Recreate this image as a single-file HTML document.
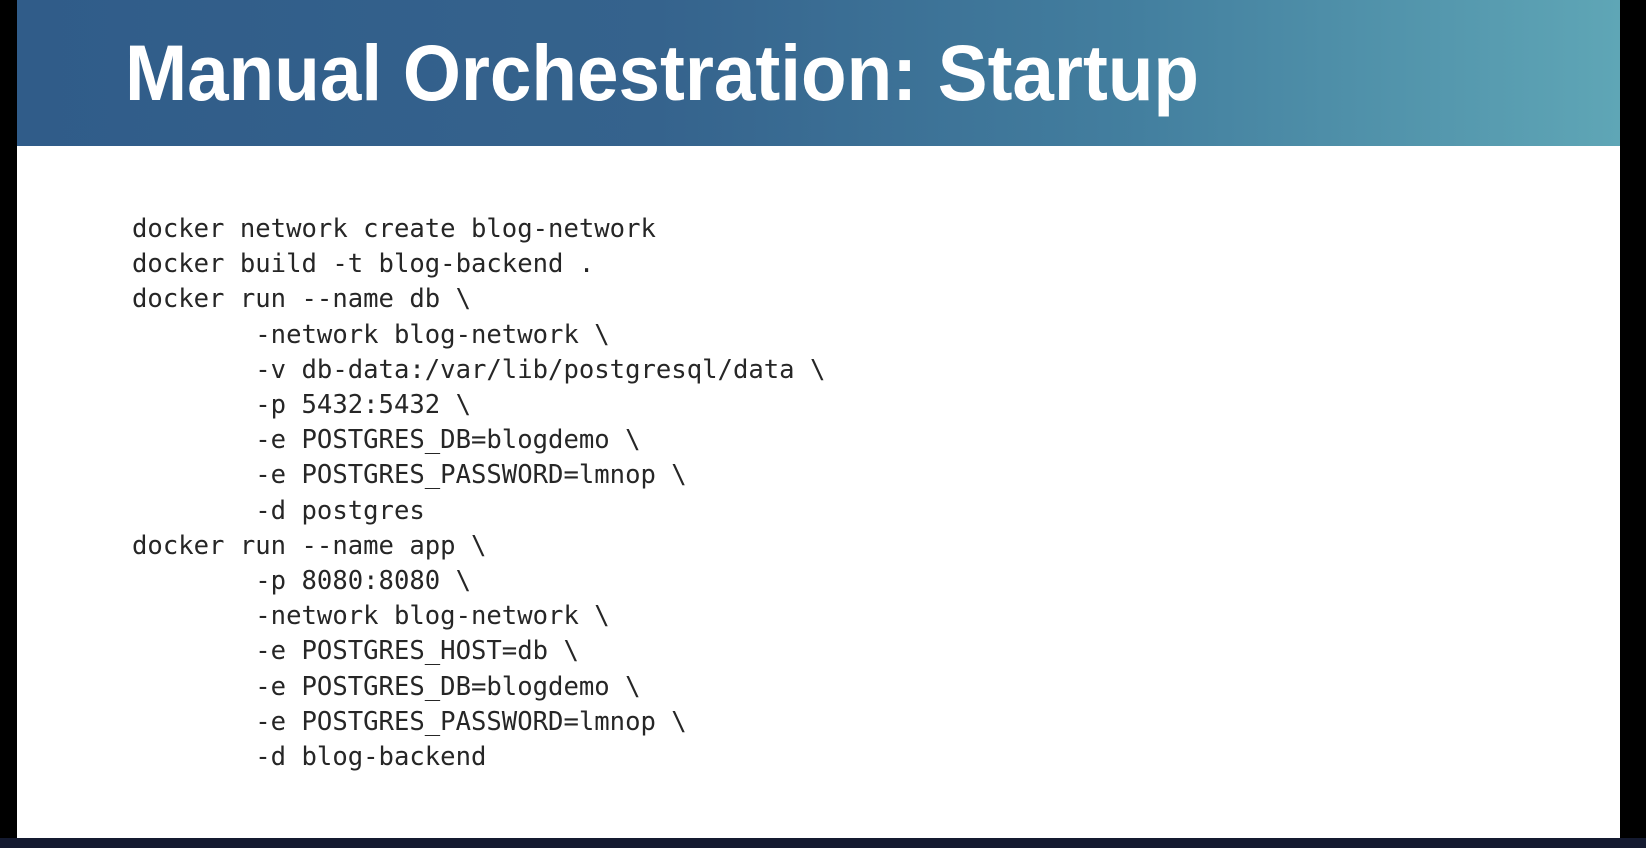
<!DOCTYPE html>
<html><head><meta charset="utf-8"><style>
html,body{margin:0;padding:0;}
body{width:1646px;height:848px;position:relative;background:#000;overflow:hidden;}
.slide{position:absolute;left:17px;top:0;width:1603px;height:838px;background:#fff;}
.hdr{position:absolute;left:17px;top:0;width:1603px;height:146px;background:linear-gradient(90deg,#305c89 0%,#35638d 40%,#437f9f 70%,#5fa6b6 100%);}
.bar{position:absolute;left:0;top:838px;width:1646px;height:10px;background:#141a30;}
pre{position:absolute;left:132px;top:212px;margin:0;font-family:"DejaVu Sans Mono","Liberation Mono",monospace;font-size:25.6px;line-height:35.2px;color:#262626;letter-spacing:0px;}
</style></head><body>
<div class="slide"></div>
<div class="hdr"></div>
<svg style="position:absolute;left:0;top:0" width="1646" height="146">
<text x="125" y="100" textLength="1074" lengthAdjust="spacingAndGlyphs" font-family="Liberation Sans, sans-serif" font-weight="bold" font-size="79" fill="#fff">Manual Orchestration: Startup</text>
</svg>
<pre>docker network create blog-network
docker build -t blog-backend .
docker run --name db \
        -network blog-network \
        -v db-data:/var/lib/postgresql/data \
        -p 5432:5432 \
        -e POSTGRES_DB=blogdemo \
        -e POSTGRES_PASSWORD=lmnop \
        -d postgres
docker run --name app \
        -p 8080:8080 \
        -network blog-network \
        -e POSTGRES_HOST=db \
        -e POSTGRES_DB=blogdemo \
        -e POSTGRES_PASSWORD=lmnop \
        -d blog-backend</pre>
<div class="bar"></div>
</body></html>
